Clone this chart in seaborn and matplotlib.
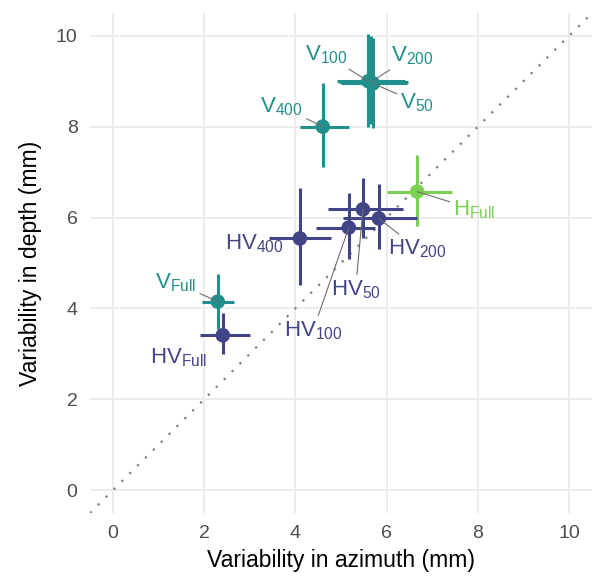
import matplotlib
matplotlib.use("Agg")
import matplotlib.pyplot as plt
import seaborn as sns
import pandas as pd
import numpy as np

# ---- data ----
names   = ["V_Full", "HV_Full", "V_400", "V_100", "V_200", "V_50", "H_Full",
           "HV_400", "HV_50", "HV_200", "HV_100"]
groups  = ["V", "HV", "V", "V", "V", "V", "H", "HV", "HV", "HV", "HV"]
x_mean  = [2.30, 2.41, 4.60, 5.60, 5.65, 5.70, 6.67, 4.10, 5.48, 5.83, 5.17]
y_mean  = [4.15, 3.41, 8.00, 9.00, 8.98, 8.95, 6.57, 5.54, 6.18, 5.98, 5.78]
x_lo    = [1.95, 1.91, 4.10, 4.91, 4.95, 5.00, 6.00, 3.42, 4.71, 5.04, 4.45]
x_hi    = [2.65, 3.00, 5.18, 6.40, 6.47, 6.45, 7.43, 4.78, 6.36, 6.67, 5.74]
y_lo    = [3.54, 2.99, 7.12, 8.00, 8.05, 7.98, 5.82, 4.51, 5.54, 5.30, 5.08]
y_hi    = [4.75, 3.89, 8.95, 10.04, 10.00, 9.95, 7.38, 6.66, 6.86, 6.73, 6.53]
label_main = ["V", "HV", "V", "V", "V", "V", "H", "HV", "HV", "HV", "HV"]
label_sub  = ["Full", "Full", "400", "100", "200", "50", "Full", "400", "50", "200", "100"]
x_ticks = [0, 2, 4, 6, 8, 10]
y_ticks = [0, 2, 4, 6, 8, 10]

palette = {"HV": "#414487", "V": "#21908C", "H": "#7AD151"}

# label placement (data-unit text positions, layout only)
label_pos = {
    "V_Full": (1.38, 4.57), "HV_Full": (1.44, 2.92), "V_400": (3.70, 8.44),
    "V_100": (4.67, 9.58), "V_200": (6.56, 9.56), "V_50": (6.67, 8.53),
    "H_Full": (7.92, 6.18), "HV_400": (3.09, 5.43), "HV_50": (5.32, 4.42),
    "HV_200": (6.67, 5.32), "HV_100": (4.39, 3.52),
}
leader = {"V_Full", "V_400", "V_100", "V_200", "V_50", "H_Full",
          "HV_50", "HV_200", "HV_100"}

df = pd.DataFrame({"name": names, "group": groups, "x": x_mean, "y": y_mean,
                   "xlo": x_lo, "xhi": x_hi, "ylo": y_lo, "yhi": y_hi,
                   "main": label_main, "sub": label_sub})

sns.set_theme(style="whitegrid")
plt.rcParams["font.family"] = ["Liberation Sans", "DejaVu Sans"]
plt.rcParams["mathtext.fontset"] = "custom"
plt.rcParams["mathtext.rm"] = "Liberation Sans"
plt.rcParams["mathtext.default"] = "regular"

fig = plt.figure(figsize=(5.98, 5.79), dpi=100)
ax = fig.add_axes([90/598, 1-513/579, (592-90)/598, (513-13)/579])

ax.set_xlim(-0.5, 10.5)
ax.set_ylim(-0.5, 10.5)

ax.axline((0, 0), slope=1, ls=(0, (1, 4)), color="#7F7F7F", lw=1.6, zorder=1)

for _, r in df.iterrows():
    c = palette[r.group]
    ax.hlines(r.y, r.xlo, r.xhi, color=c, lw=2.2, zorder=2)
    ax.vlines(r.x, r.ylo, r.yhi, color=c, lw=2.2, zorder=2)

sns.scatterplot(data=df, x="x", y="y", hue="group", palette=palette, s=110,
                edgecolor="none", legend=False, ax=ax, zorder=3)

for _, r in df.iterrows():
    c = palette[r.group]
    tx, ty = label_pos[r["name"]]
    txt = rf"{r['main']}$_{{{r['sub']}}}$"
    if r["name"] in leader:
        ax.annotate(txt, xy=(r.x, r.y), xytext=(tx, ty), color=c, fontsize=16,
                    ha="center", va="center", zorder=4,
                    bbox=dict(boxstyle="square,pad=0.1", fc="none", ec="none"),
                    arrowprops=dict(arrowstyle="-", color="#6E6E6E", lw=0.8,
                                    shrinkA=1, shrinkB=0))
    else:
        ax.text(tx, ty, txt, color=c, fontsize=16, ha="center", va="center", zorder=4)

ax.set_xticks(x_ticks)
ax.set_yticks(y_ticks)
ax.grid(True, color="#EBEBEB", lw=1.3)
ax.set_axisbelow(True)
for s in ax.spines.values():
    s.set_visible(False)
ax.tick_params(axis="both", length=0, labelsize=14, labelcolor="#4D4D4D")
ax.tick_params(axis="x", pad=9)
ax.tick_params(axis="y", pad=9)
ax.set_xlabel("Variability in azimuth (mm)", fontsize=16.6, color="black", labelpad=5)
ax.set_ylabel("Variability in depth (mm)", fontsize=16.6, color="black", labelpad=10)
ax.set_facecolor("white")

fig.savefig("out.png", dpi=100, facecolor="white")
